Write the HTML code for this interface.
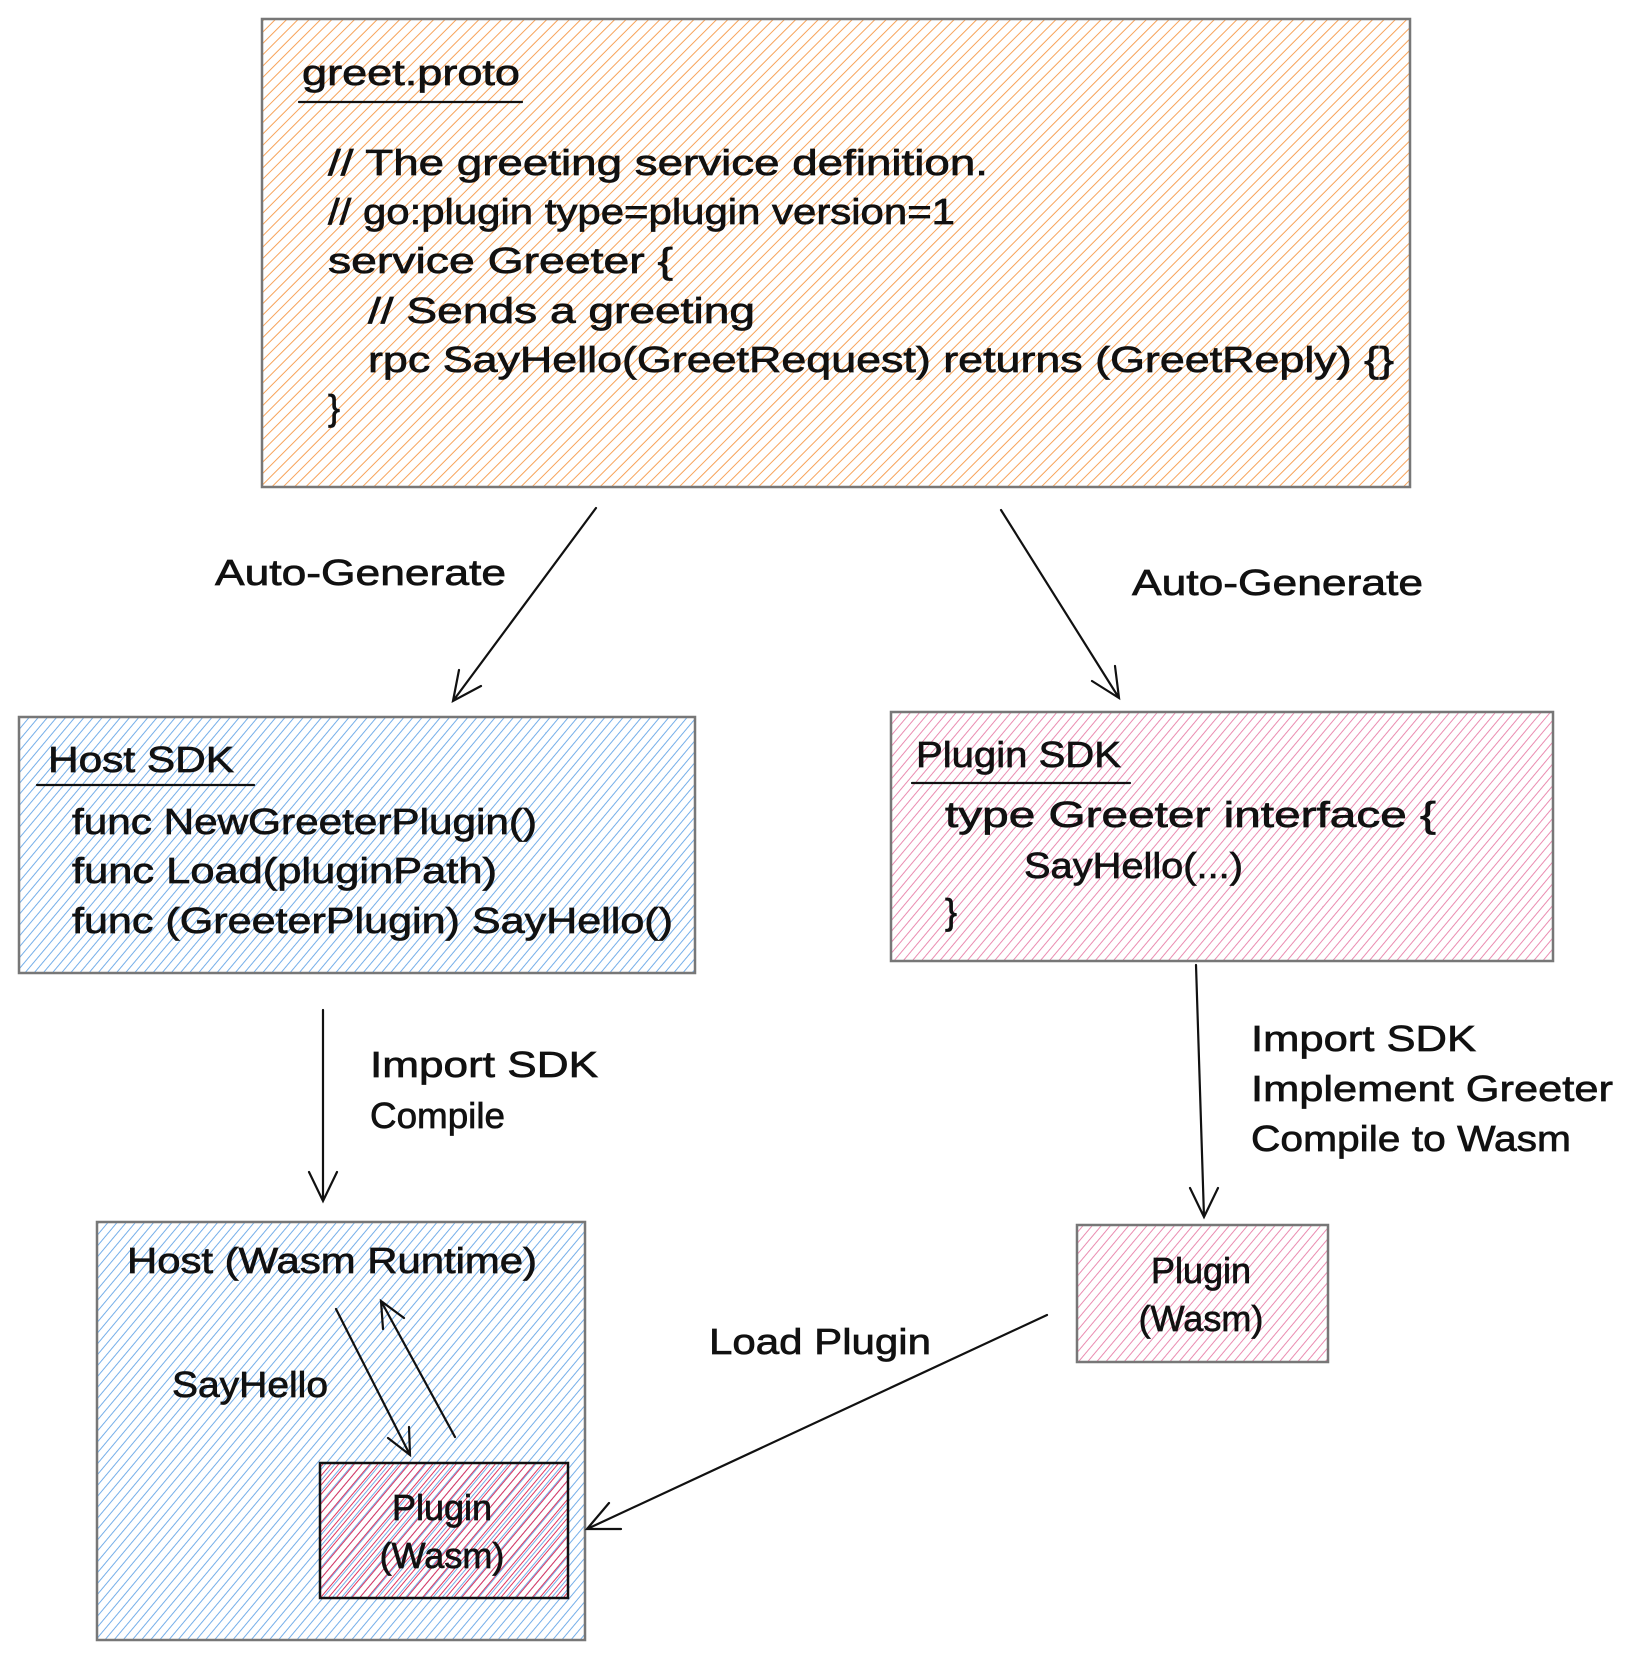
<!DOCTYPE html>
<html><head><meta charset="utf-8"><style>html,body{margin:0;padding:0;background:#fff}svg{display:block}text{font-family:"Liberation Sans",sans-serif;fill:#111;stroke:#111;stroke-width:0.7}</style></head>
<body>
<svg width="1632" height="1659" viewBox="0 0 1632 1659" xmlns="http://www.w3.org/2000/svg">
<defs>
<pattern id="po" width="8" height="8" patternUnits="userSpaceOnUse" patternTransform="rotate(45)"><line x1="0" y1="0" x2="0" y2="8" stroke="#f7a35a" stroke-width="2"/></pattern>
<pattern id="pb" width="7" height="7" patternUnits="userSpaceOnUse" patternTransform="rotate(40)"><line x1="0" y1="0" x2="0" y2="7" stroke="#6eaae8" stroke-width="1.9"/></pattern>
<pattern id="pp" width="7" height="7" patternUnits="userSpaceOnUse" patternTransform="rotate(40)"><line x1="0" y1="0" x2="0" y2="7" stroke="#e986ad" stroke-width="1.9"/></pattern>
<pattern id="pr" width="6" height="6" patternUnits="userSpaceOnUse" patternTransform="rotate(40)"><line x1="0" y1="0" x2="0" y2="6" stroke="#e0365f" stroke-width="2"/></pattern>
</defs>
<g stroke="#777" stroke-width="2.5">
<rect x="262" y="19" width="1148" height="468" fill="url(#po)"/>
<rect x="19" y="717" width="676" height="256" fill="url(#pb)"/>
<rect x="891" y="712" width="662" height="249" fill="url(#pp)"/>
<rect x="97" y="1222" width="488" height="418" fill="url(#pb)"/>
<rect x="1077" y="1225" width="251" height="137" fill="url(#pp)"/>
</g>
<rect x="320" y="1463" width="248" height="135" fill="url(#pr)" stroke="#111" stroke-width="2.5"/>
<g font-size="36">
<text x="302" y="85" textLength="218" lengthAdjust="spacingAndGlyphs">greet.proto</text>
<text x="328" y="175" textLength="660" lengthAdjust="spacingAndGlyphs">// The greeting service definition.</text>
<text x="328" y="224" textLength="627" lengthAdjust="spacingAndGlyphs">// go:plugin type=plugin version=1</text>
<text x="328" y="273" textLength="345" lengthAdjust="spacingAndGlyphs">service Greeter {</text>
<text x="368" y="323" textLength="387" lengthAdjust="spacingAndGlyphs">// Sends a greeting</text>
<text x="368" y="372" textLength="1026" lengthAdjust="spacingAndGlyphs">rpc SayHello(GreetRequest) returns (GreetReply) {}</text>
<text x="328" y="420">}</text>
<text x="215" y="585" textLength="291" lengthAdjust="spacingAndGlyphs">Auto-Generate</text>
<text x="1132" y="595" textLength="291" lengthAdjust="spacingAndGlyphs">Auto-Generate</text>
<text x="48" y="772" textLength="186" lengthAdjust="spacingAndGlyphs">Host SDK</text>
<text x="72" y="834" textLength="465" lengthAdjust="spacingAndGlyphs">func NewGreeterPlugin()</text>
<text x="72" y="883" textLength="425" lengthAdjust="spacingAndGlyphs">func Load(pluginPath)</text>
<text x="72" y="933" textLength="601" lengthAdjust="spacingAndGlyphs">func (GreeterPlugin) SayHello()</text>
<text x="916" y="767" textLength="205" lengthAdjust="spacingAndGlyphs">Plugin SDK</text>
<text x="945" y="827" textLength="491" lengthAdjust="spacingAndGlyphs">type Greeter interface {</text>
<text x="1024" y="878" textLength="219" lengthAdjust="spacingAndGlyphs">SayHello(...)</text>
<text x="945" y="924">}</text>
<text x="370" y="1077" textLength="228" lengthAdjust="spacingAndGlyphs">Import SDK</text>
<text x="370" y="1128" textLength="135" lengthAdjust="spacingAndGlyphs">Compile</text>
<text x="1251" y="1051" textLength="225" lengthAdjust="spacingAndGlyphs">Import SDK</text>
<text x="1251" y="1101" textLength="362" lengthAdjust="spacingAndGlyphs">Implement Greeter</text>
<text x="1251" y="1151" textLength="320" lengthAdjust="spacingAndGlyphs">Compile to Wasm</text>
<text x="127" y="1273" textLength="410" lengthAdjust="spacingAndGlyphs">Host (Wasm Runtime)</text>
<text x="172" y="1397" textLength="156" lengthAdjust="spacingAndGlyphs">SayHello</text>
<text x="442" y="1520" text-anchor="middle">Plugin</text>
<text x="442" y="1568" text-anchor="middle">(Wasm)</text>
<text x="1201" y="1283" text-anchor="middle">Plugin</text>
<text x="1201" y="1331" text-anchor="middle">(Wasm)</text>
<text x="709" y="1354" textLength="222" lengthAdjust="spacingAndGlyphs">Load Plugin</text>
</g>
<g stroke="#111" stroke-width="2.2" fill="none" stroke-linecap="round">
<line x1="299" y1="102" x2="522" y2="102"/>
<line x1="37" y1="785" x2="254" y2="785"/>
<line x1="912" y1="783" x2="1130" y2="783"/>
<path d="M596 508 L453 701 M481 686 L453 701 L459 670"/>
<path d="M1001 510 L1119 698 M1115 666 L1119 698 L1092 681"/>
<path d="M323 1010 L323 1201 M309 1172 L323 1201 L337 1172"/>
<path d="M1196 965 L1204 1217 M1190 1188 L1204 1217 L1218 1188"/>
<path d="M336 1309 L410 1455 M409 1427 L410 1455 L388 1438"/>
<path d="M455 1437 L381 1301 M383 1329 L381 1301 L404 1318"/>
<path d="M1047 1315 L587 1529 M621 1529 L587 1529 L609 1503"/>
</g>
</svg>
</body></html>
